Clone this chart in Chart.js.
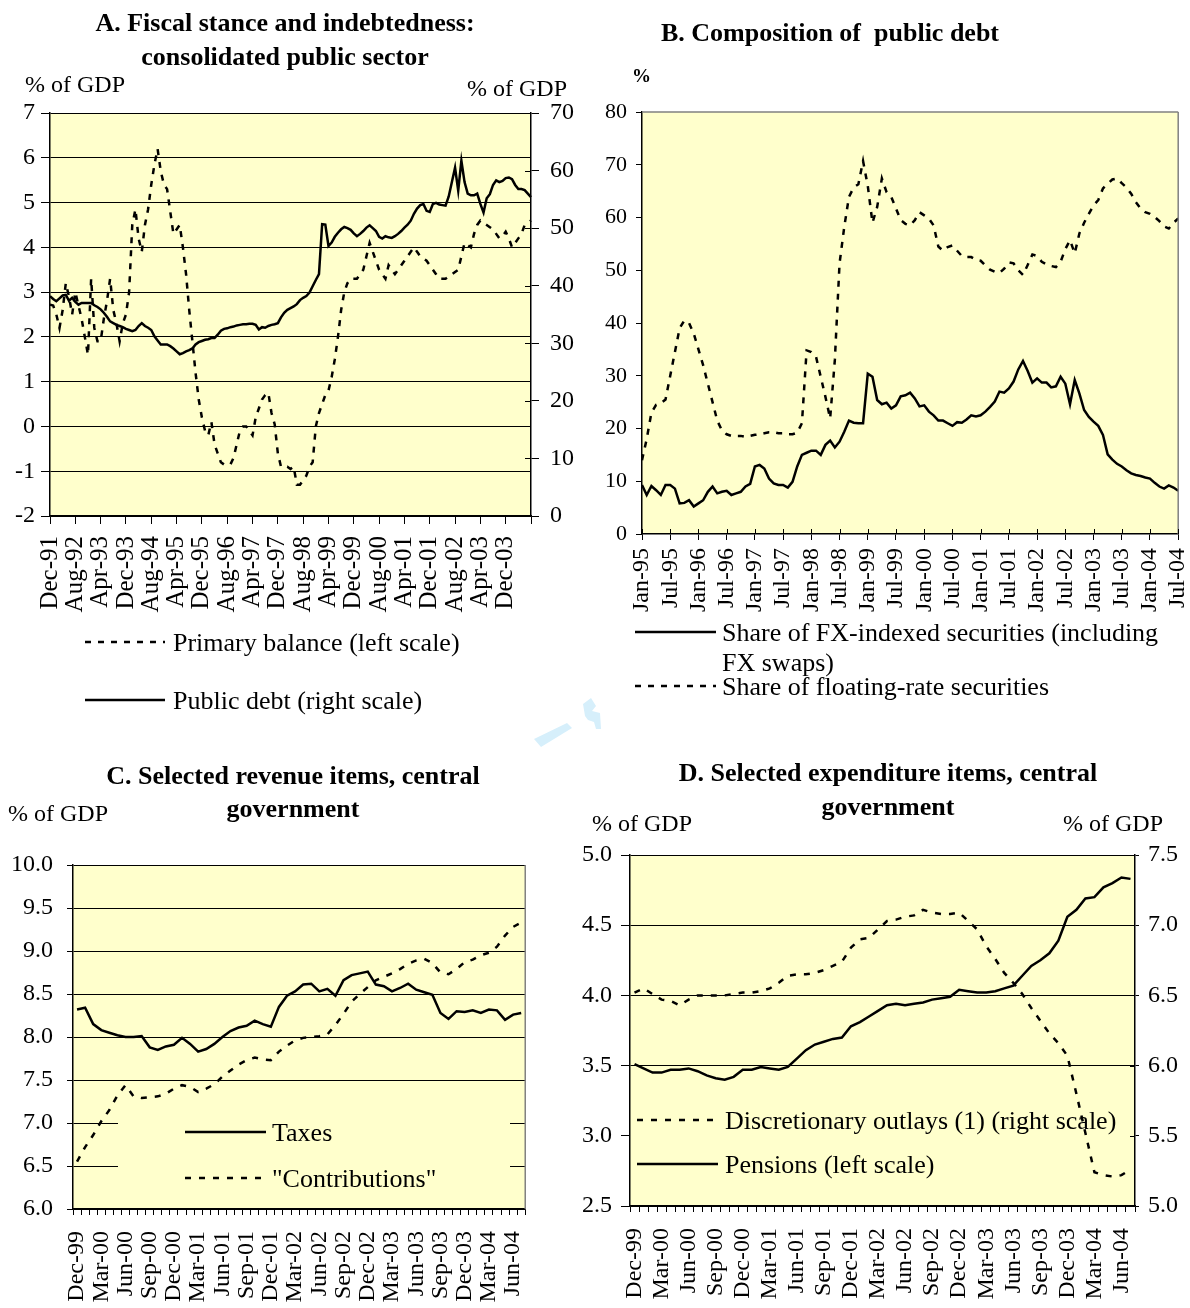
<!DOCTYPE html>
<html>
<head>
<meta charset="utf-8">
<script src="https://cdn.jsdelivr.net/npm/chart.js@4.4.1/dist/chart.umd.min.js"></script>
<style>
  body { margin: 0; background: #fff; }
  #page { position: relative; width: 1190px; height: 1308px; overflow: hidden;
          font-family: 'Liberation Serif', 'Times New Roman', serif; color: #000; }
  canvas { position: absolute; }
  .t { position: absolute; white-space: nowrap; line-height: 1; font-size: 26px; }
  .u { font-size: 24px; }
  .b { font-weight: bold; }
  .c { text-align: center; }
  #overlay { position: absolute; left: 0; top: 0; pointer-events: none; }
  #legC { position: absolute; left: 118px; top: 1102px; width: 392px; height: 92px; background: #FFFFCC; }
</style>
</head>
<body>
<div id="page">
  <canvas id="cA" width="600" height="540" style="left:0;top:80px"></canvas>
  <canvas id="cB" width="615" height="540" style="left:600px;top:80px"></canvas>
  <canvas id="cC" width="566" height="488" style="left:0;top:820px"></canvas>
  <canvas id="cD" width="630" height="488" style="left:560px;top:820px"></canvas>
  <div id="legC"></div>

  <svg id="overlay" width="1190" height="1308">
    <g stroke="#000" stroke-width="2.5">
      <line x1="85" y1="642" x2="165" y2="642" stroke-dasharray="6 7"/>
      <line x1="85" y1="700" x2="165" y2="700"/>
      <line x1="635" y1="632" x2="716" y2="632"/>
      <line x1="635" y1="686" x2="716" y2="686" stroke-dasharray="6 7"/>
      <line x1="185" y1="1132" x2="266" y2="1132"/>
      <line x1="185" y1="1178" x2="266" y2="1178" stroke-dasharray="6 8"/>
      <line x1="637" y1="1120" x2="718" y2="1120" stroke-dasharray="6 8"/>
      <line x1="637" y1="1164" x2="718" y2="1164"/>
    </g>
    <g fill="#D6EFFB">
      <polygon points="534,739 541,747 572,728 567,723"/>
      <polygon points="583,704 591,698 596,706 592,711 600,713 601,729 596,729 594,722 588,720 585,716"/>
    </g>
  </svg>

  <div class="t b c" style="left:0;width:570px;top:10px">A. Fiscal stance and indebtedness:</div>
  <div class="t b c" style="left:0;width:570px;top:44px">consolidated public sector</div>
  <div class="t u" style="left:25px;top:72px">% of GDP</div>
  <div class="t u" style="left:467px;top:76px">% of GDP</div>
  <div class="t" style="left:173px;top:630px">Primary balance (left scale)</div>
  <div class="t" style="left:173px;top:688px">Public debt (right scale)</div>

  <div class="t b c" style="left:530px;width:600px;top:20px">B. Composition of&nbsp; public debt</div>
  <div class="t b" style="left:632px;top:66px;font-size:19px">%</div>
  <div class="t" style="left:722px;top:620px">Share of FX-indexed securities (including</div>
  <div class="t" style="left:722px;top:650px">FX swaps)</div>
  <div class="t" style="left:722px;top:674px">Share of floating-rate securities</div>

  <div class="t b c" style="left:0;width:586px;top:763px">C. Selected revenue items, central</div>
  <div class="t b c" style="left:0;width:586px;top:796px">government</div>
  <div class="t u" style="left:8px;top:801px">% of GDP</div>
  <div class="t" style="left:272px;top:1120px">Taxes</div>
  <div class="t" style="left:272px;top:1166px">"Contributions"</div>

  <div class="t b c" style="left:588px;width:600px;top:760px">D. Selected expenditure items, central</div>
  <div class="t b c" style="left:588px;width:600px;top:794px">government</div>
  <div class="t u" style="left:592px;top:811px">% of GDP</div>
  <div class="t u" style="left:1063px;top:811px">% of GDP</div>
  <div class="t" style="left:725px;top:1108px">Discretionary outlays (1) (right scale)</div>
  <div class="t" style="left:725px;top:1152px">Pensions (left scale)</div>
</div>

<script>
const MON = ['Jan', 'Feb', 'Mar', 'Apr', 'May', 'Jun', 'Jul', 'Aug', 'Sep', 'Oct', 'Nov', 'Dec'];
function monthLabels(m0, y0, n) {
  const out = [];
  for (let k = 0; k < n; k++) {
    const m = (m0 + k) % 12;
    const y = (y0 + Math.floor((m0 + k) / 12)) % 100;
    out.push(MON[m] + '-' + String(y).padStart(2, '0'));
  }
  return out;
}

// A. Dec-91 .. Aug-04, monthly
const monthsA = monthLabels(11, 91, 153);
const primaryBalance = [
  2.72, 2.7, 2.5, 2.2, 2.6, 3.2, 2.9, 2.5, 3.0, 2.7,
  2.4, 2.0, 1.6, 3.3, 2.2, 1.9, 1.9, 2.4, 2.8, 3.3,
  2.6, 2.3, 1.9, 2.3, 2.5, 3.0, 4.5, 4.85, 4.2, 3.9,
  4.5, 4.85, 5.4, 5.85, 6.2, 5.7, 5.4, 5.3, 4.8, 4.3,
  4.4, 4.5, 4.0, 3.4, 2.6, 1.9, 1.2, 0.6, 0.2, -0.1,
  -0.2, 0.1, -0.4, -0.6, -0.8, -0.85, -0.85, -0.85, -0.7, -0.4,
  -0.1, 0.0, 0.0, -0.1, -0.2, 0.2, 0.4, 0.6, 0.7, 0.75,
  0.3, 0.05, -0.6, -0.9, -0.9, -0.9, -0.95, -0.9, -1.3, -1.3,
  -1.2, -1.1, -0.9, -0.8, 0.0, 0.3, 0.5, 0.7, 0.8, 1.1,
  1.5, 2.0, 2.6, 3.0, 3.2, 3.3, 3.3, 3.3, 3.4, 3.5,
  3.8, 4.1, 3.9, 3.7, 3.5, 3.4, 3.3, 3.6, 3.5, 3.4,
  3.5, 3.6, 3.7, 3.8, 3.9, 4.0, 3.9, 3.8, 3.75, 3.7,
  3.6, 3.5, 3.4, 3.3, 3.3, 3.3, 3.35, 3.4, 3.45, 3.5,
  3.8, 4.1, 4.05, 4.0, 4.3, 4.5, 4.6, 4.55, 4.5, 4.45,
  4.4, 4.3, 4.2, 4.25, 4.35, 4.2, 4.0, 4.1, 4.2, 4.3,
  4.5, 4.55, 4.6
];
const publicDebt = [
  38.2, 37.7, 37.3, 37.8, 38.3, 38.4, 37.4, 37.9, 37.2, 36.7,
  37.0, 37.0, 37.0, 37.0, 36.6, 36.3, 35.9, 35.3, 34.6, 33.8,
  33.5, 33.2, 33.0, 32.8, 32.5, 32.3, 32.1, 32.3, 33.0, 33.5,
  33.0, 32.7, 32.3, 31.2, 30.5, 29.8, 29.8, 29.8, 29.5, 29.1,
  28.6, 28.1, 28.3, 28.6, 28.8, 29.1, 29.8, 30.2, 30.4, 30.6,
  30.7, 30.9, 30.9, 31.5, 32.2, 32.5, 32.6, 32.8, 32.9, 33.1,
  33.2, 33.3, 33.3, 33.4, 33.4, 33.2, 32.4, 32.8, 32.7, 33.0,
  33.2, 33.3, 33.5, 34.5, 35.3, 35.8, 36.1, 36.4, 36.8, 37.5,
  37.9, 38.2, 38.8, 39.9, 41.0, 42.0, 50.7, 50.6, 46.9, 47.5,
  48.5, 49.2, 49.8, 50.2, 50.0, 49.7, 49.1, 48.6, 49.0, 49.5,
  50.1, 50.5, 50.0, 49.5, 48.5, 48.2, 48.6, 48.4, 48.3, 48.6,
  49.0, 49.5, 50.1, 50.6, 51.3, 52.5, 53.4, 54.0, 54.2, 53.0,
  52.8, 54.2, 54.4, 54.1, 54.0, 53.9, 55.5, 58.0, 60.5, 56.5,
  61.7, 58.0, 56.0, 55.7, 55.7, 56.0, 54.2, 52.7, 55.2, 55.9,
  57.5, 58.3, 58.0, 58.2, 58.7, 58.8, 58.5, 57.5, 56.8, 56.8,
  56.6, 56.0, 55.4
];

// B. Jan-95 .. Jul-04, monthly
const monthsB = monthLabels(0, 95, 115);
const fxIndexed = [
  9.3, 7.4, 9.1, 8.3, 7.4, 9.3, 9.3, 8.6, 5.8, 5.9,
  6.4, 5.2, 5.8, 6.4, 8.0, 9.0, 7.7, 8.0, 8.2, 7.4,
  7.7, 8.0, 9.0, 9.5, 12.8, 13.1, 12.4, 10.5, 9.6, 9.3,
  9.3, 8.8, 9.9, 12.8, 15.0, 15.4, 15.8, 15.8, 15.0, 16.9,
  17.7, 16.4, 17.5, 19.4, 21.5, 21.1, 21.0, 21.0, 30.4, 29.8,
  25.4, 24.6, 24.9, 23.8, 24.4, 26.1, 26.3, 26.8, 25.7, 24.2,
  24.4, 23.2, 22.5, 21.5, 21.5, 21.0, 20.5, 21.2, 21.1, 21.7,
  22.5, 22.3, 22.5, 23.2, 24.1, 25.1, 27.0, 26.8, 27.6, 28.9,
  31.2, 32.8, 30.9, 28.7, 29.5, 28.7, 28.7, 27.8, 28.0, 29.8,
  28.5, 24.6, 29.2, 26.6, 23.5, 22.2, 21.3, 20.5, 18.8, 15.1,
  14.1, 13.3, 12.8, 12.1, 11.5, 11.2, 11.0, 10.7, 10.5, 9.7,
  9.0, 8.6, 9.2, 8.8, 8.2
];
const floatingRate = [
  14.0, 18.0, 23.0, 24.5, 24.8, 25.5, 30.0, 34.5, 39.0, 40.5,
  40.0, 38.0, 35.0, 32.0, 28.5, 25.0, 21.5, 19.6, 18.9, 18.6,
  18.6, 18.6, 18.4, 18.6, 18.8, 18.9, 19.1, 19.3, 19.3, 19.1,
  19.1, 18.9, 18.9, 19.2, 21.0, 34.8, 34.5, 33.6, 29.8, 26.0,
  21.9, 33.0, 51.3, 58.2, 63.9, 65.7, 66.3, 70.7, 66.0, 59.0,
  62.0, 67.4, 64.8, 63.9, 61.7, 59.5, 58.8, 58.5, 59.5, 61.0,
  60.4, 59.8, 58.5, 54.5, 53.7, 54.4, 54.7, 53.7, 52.7, 52.5,
  52.5, 52.0, 51.8, 50.9, 50.1, 49.7, 49.5, 50.3, 51.5, 51.3,
  50.0, 49.1, 51.0, 53.0, 52.7, 51.6, 51.1, 50.8, 50.6, 51.6,
  54.0, 55.7, 53.2, 57.0, 59.0, 60.7, 62.3, 63.3, 65.5, 66.4,
  67.2, 67.4, 66.5, 65.7, 64.5, 62.9, 61.7, 61.0, 60.7, 60.1,
  59.3, 58.3, 57.9, 59.0, 59.8
];

// C and D. Dec-99 .. Jul-04, monthly
const monthsCD = monthLabels(11, 99, 56);
const taxes = [
  8.32, 8.34, 8.15, 8.08, 8.05, 8.02, 8.00, 8.00, 8.01, 7.88,
  7.85, 7.89, 7.91, 7.99, 7.92, 7.83, 7.86, 7.92, 8.00, 8.07,
  8.11, 8.13, 8.19, 8.15, 8.12, 8.35, 8.48, 8.53, 8.61, 8.62,
  8.53, 8.56, 8.48, 8.66, 8.72, 8.74, 8.76, 8.61, 8.59, 8.53,
  8.57, 8.62, 8.55, 8.52, 8.49, 8.28, 8.21, 8.30, 8.29, 8.31,
  8.28, 8.32, 8.31, 8.20, 8.26, 8.28
];
const contributions = [
  6.55, 6.72, 6.86, 7.02, 7.15, 7.32, 7.44, 7.31, 7.29, 7.30,
  7.31, 7.34, 7.40, 7.44, 7.42, 7.36, 7.40, 7.45, 7.54, 7.61,
  7.68, 7.73, 7.76, 7.74, 7.73, 7.83, 7.90, 7.96, 7.99, 8.00,
  8.01, 8.03, 8.14, 8.27, 8.41, 8.50, 8.58, 8.66, 8.70, 8.74,
  8.79, 8.85, 8.89, 8.91, 8.86, 8.75, 8.73, 8.79, 8.87, 8.90,
  8.95, 8.98, 9.05, 9.18, 9.28, 9.33
];
const pensions = [
  3.51, 3.48, 3.45, 3.45, 3.47, 3.47, 3.48, 3.46, 3.43, 3.41,
  3.40, 3.42, 3.47, 3.47, 3.49, 3.48, 3.47, 3.49, 3.55, 3.61,
  3.65, 3.67, 3.69, 3.70, 3.78, 3.81, 3.85, 3.89, 3.93, 3.94,
  3.93, 3.94, 3.95, 3.97, 3.98, 3.99, 4.04, 4.03, 4.02, 4.02,
  4.03, 4.05, 4.07, 4.14, 4.21, 4.25, 4.30, 4.39, 4.56, 4.61,
  4.69, 4.70, 4.77, 4.80, 4.84, 4.83
];
const discretionary = [
  6.52, 6.55, 6.51, 6.47, 6.46, 6.43, 6.47, 6.50, 6.50, 6.50,
  6.50, 6.51, 6.52, 6.52, 6.53, 6.55, 6.59, 6.64, 6.65, 6.65,
  6.66, 6.68, 6.71, 6.74, 6.84, 6.90, 6.91, 6.97, 7.03, 7.04,
  7.06, 7.07, 7.11, 7.09, 7.08, 7.08, 7.09, 7.03, 6.97, 6.85,
  6.76, 6.66, 6.59, 6.51, 6.41, 6.32, 6.23, 6.16, 6.07, 5.80,
  5.52, 5.24, 5.22, 5.21, 5.22, 5.26
];

Chart.defaults.font.family = "'Liberation Serif', 'Times New Roman', serif";
Chart.defaults.color = '#000';

// yellow plot area, grey frame edges and inward tick marks
const plotFrame = {
  id: 'plotFrame',
  beforeDraw(chart) {
    const a = chart.chartArea, c = chart.ctx;
    c.save();
    c.fillStyle = '#FFFFCC';
    c.fillRect(a.left, a.top, a.right - a.left, a.bottom - a.top);
    c.restore();
  },
  afterDraw(chart, args, opts) {
    const a = chart.chartArea, c = chart.ctx;
    c.save();
    c.strokeStyle = '#808080';
    c.lineWidth = 1.5;
    if (opts.top) { c.beginPath(); c.moveTo(a.left, a.top); c.lineTo(a.right, a.top); c.stroke(); }
    if (opts.right) { c.beginPath(); c.moveTo(a.right, a.top); c.lineTo(a.right, a.bottom); c.stroke(); }
    c.strokeStyle = '#000';
    c.lineWidth = 1;
    (opts.inner || []).forEach(it => {
      const s = chart.scales[it.id];
      s.ticks.forEach((t, i) => {
        if (it.every && i % it.every) return;
        const p = Math.round(s.getPixelForTick(i)) + 0.5;
        c.beginPath();
        if (s.isHorizontal()) { c.moveTo(p, a.bottom); c.lineTo(p, a.bottom - it.len); }
        else { c.moveTo(a.right, p); c.lineTo(a.right - it.len, p); }
        c.stroke();
      });
    });
    c.restore();
  }
};
Chart.register(plotFrame);

const solid = (data, axis) => ({ data, yAxisID: axis, borderColor: '#000', borderWidth: 2.5, pointRadius: 0, tension: 0, fill: false });
const dashed = (data, axis, dash) => Object.assign(solid(data, axis), { borderDash: dash });
const base = pad => ({
  responsive: false, animation: false, devicePixelRatio: 1,
  layout: { padding: pad },
  plugins: { legend: { display: false }, tooltip: { enabled: false } }
});
const fixW = w => s => { s.width = w; };
const fixH = h => s => { s.height = h; };
const dec1 = v => Number(v).toFixed(1);
const axisBorder = { color: '#000', width: 1.5 };

// A
const optA = base({ top: 33, left: 0, right: 0, bottom: 0 });
optA.plugins.plotFrame = { inner: [{ id: 'y2', len: 6 }] };
optA.scales = {
  x: {
    offset: false, border: axisBorder, afterFit: fixH(104),
    grid: { drawOnChartArea: false, tickLength: 8, tickColor: ctx => ctx.index % 8 === 0 ? '#000' : 'rgba(0,0,0,0)' },
    ticks: { autoSkip: false, minRotation: 90, maxRotation: 90, padding: 12, font: { size: 25 },
      callback: (v, i) => (i % 8 === 0 && i < 152) ? monthsA[i] : '' }
  },
  y: {
    position: 'left', min: -2, max: 7, border: axisBorder, afterFit: fixW(50),
    ticks: { stepSize: 1, padding: 6, font: { size: 24 } },
    grid: { color: '#000', lineWidth: 1, tickLength: 9 }
  },
  y2: {
    position: 'right', min: 0, max: 70, border: axisBorder, afterFit: fixW(69),
    ticks: { stepSize: 10, padding: 11, font: { size: 24 } },
    grid: { drawOnChartArea: false, color: '#000', tickLength: 8 }
  }
};
new Chart(document.getElementById('cA'), {
  type: 'line',
  data: { labels: monthsA, datasets: [dashed(primaryBalance, 'y', [6, 7]), solid(publicDebt, 'y2')] },
  options: optA
});

// B
const optB = base({ top: 32, left: 0, right: 0, bottom: 0 });
optB.plugins.plotFrame = { top: true, right: true, inner: [{ id: 'x', len: 5, every: 6 }] };
optB.scales = {
  x: {
    offset: false, border: axisBorder, afterFit: fixH(86),
    grid: { drawOnChartArea: false, tickLength: 6, tickColor: ctx => ctx.index % 6 === 0 ? '#000' : 'rgba(0,0,0,0)' },
    ticks: { autoSkip: false, minRotation: 90, maxRotation: 90, padding: 8, font: { size: 24 },
      callback: (v, i) => i % 6 === 0 ? monthsB[i] : '' }
  },
  y: {
    position: 'left', min: 0, max: 80, border: axisBorder, afterFit: fixW(42),
    ticks: { stepSize: 10, padding: 9, font: { size: 22 } },
    grid: { drawOnChartArea: false, color: '#000', tickLength: 6 }
  }
};
new Chart(document.getElementById('cB'), {
  type: 'line',
  data: { labels: monthsB, datasets: [solid(fxIndexed, 'y'), dashed(floatingRate, 'y', [6, 7])] },
  options: optB
});

// C
const optC = base({ top: 45, left: 0, right: 0, bottom: 0 });
optC.plugins.plotFrame = { right: true };
optC.scales = {
  x: {
    offset: true, border: axisBorder, afterFit: fixH(99),
    grid: { offset: true, drawOnChartArea: false, tickLength: 6, color: '#000' },
    ticks: { autoSkip: false, minRotation: 90, maxRotation: 90, padding: 16, font: { size: 24 },
      callback: (v, i) => i % 3 === 0 ? monthsCD[i] : '' }
  },
  y: {
    position: 'left', min: 6, max: 10, border: axisBorder, afterFit: fixW(73),
    ticks: { stepSize: 0.5, padding: 14, font: { size: 24 }, callback: dec1 },
    grid: { color: '#000', lineWidth: 1, tickLength: 6 }
  }
};
new Chart(document.getElementById('cC'), {
  type: 'line',
  data: { labels: monthsCD, datasets: [solid(taxes, 'y'), dashed(contributions, 'y', [6, 8])] },
  options: optC
});

// D
const optD = base({ top: 35, left: 0, right: 0, bottom: 0 });
optD.plugins.plotFrame = { inner: [{ id: 'y2', len: 5 }] };
optD.scales = {
  x: {
    offset: true, border: axisBorder, afterFit: fixH(102),
    grid: { offset: true, drawOnChartArea: false, tickLength: 6, color: '#000' },
    ticks: { autoSkip: false, minRotation: 90, maxRotation: 90, padding: 16, font: { size: 24 },
      callback: (v, i) => i % 3 === 0 ? monthsCD[i] : '' }
  },
  y: {
    position: 'left', min: 2.5, max: 5, border: axisBorder, afterFit: fixW(70),
    ticks: { stepSize: 0.5, padding: 9, font: { size: 24 }, callback: dec1 },
    grid: { lineWidth: 1, tickLength: 9,
      color: ctx => (ctx.tick && Math.abs(ctx.tick.value - 3) < 1e-6) ? 'rgba(0,0,0,0)' : '#000',
      tickColor: '#000' }
  },
  y2: {
    position: 'right', min: 5, max: 7.5, border: axisBorder, afterFit: fixW(55),
    ticks: { stepSize: 0.5, padding: 9, font: { size: 24 }, callback: dec1 },
    grid: { drawOnChartArea: false, color: '#000', tickLength: 4 }
  }
};
new Chart(document.getElementById('cD'), {
  type: 'line',
  data: { labels: monthsCD, datasets: [dashed(discretionary, 'y2', [6, 8]), solid(pensions, 'y')] },
  options: optD
});
</script>
</body>
</html>
